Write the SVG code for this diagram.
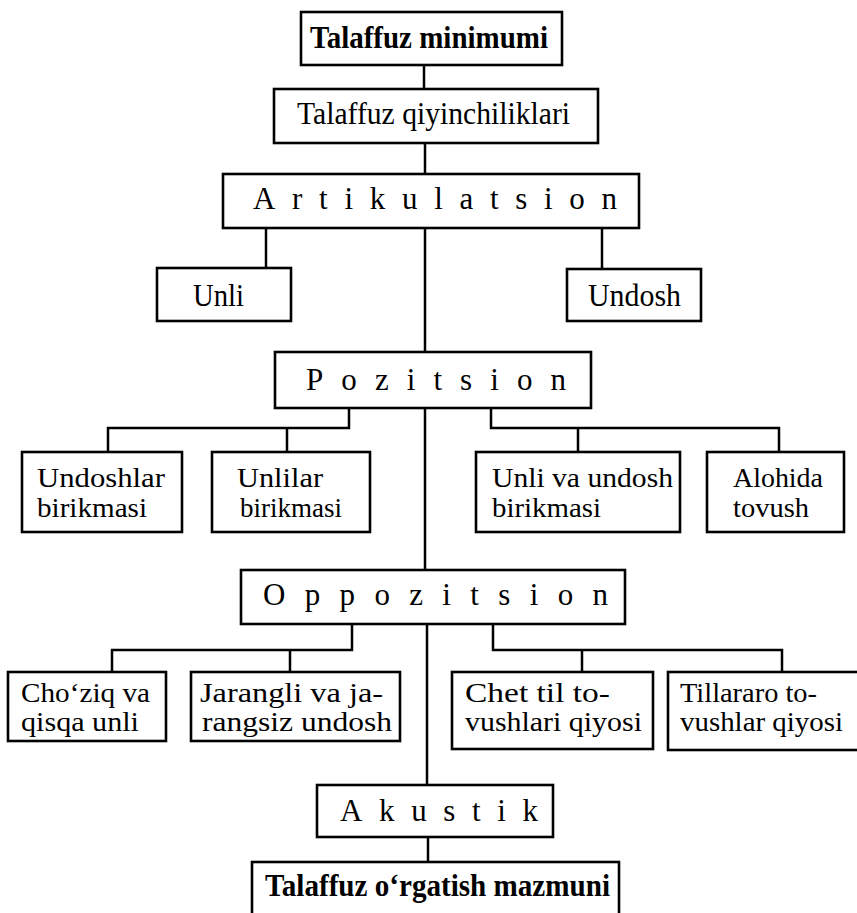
<svg xmlns="http://www.w3.org/2000/svg" width="857" height="913" viewBox="0 0 857 913">
<style>
.box{fill:#fff;stroke:#000;stroke-width:2.6}
.t{font-family:"Liberation Serif","Times New Roman",serif;font-size:31px;fill:#000}
.m{font-size:28px}
.b{font-weight:bold}
.c{fill:none;stroke:#000;stroke-width:2.5}
</style>
<rect width="857" height="913" fill="#fff"/>
<g id="connectors">
<path class="c" d="M424,65V89"/>
<path class="c" d="M425,143V174"/>
<path class="c" d="M266,228V268"/>
<path class="c" d="M602,228V269"/>
<path class="c" d="M425,228V352"/>
<path class="c" d="M349,408V428H108V452M287,428V452"/>
<path class="c" d="M491,408V428H779V452M578,428V452"/>
<path class="c" d="M425,408V570"/>
<path class="c" d="M352,624V650H112V672M290,650V672"/>
<path class="c" d="M493,624V650H782V672M582,650V672"/>
<path class="c" d="M427,624V785"/>
<path class="c" d="M428,837V862"/>
</g>
<g id="n1"><rect class="box" x="301" y="12" width="261" height="53"/><text class="t b" x="310" y="48" textLength="238" lengthAdjust="spacingAndGlyphs">Talaffuz  minimumi</text></g>
<g id="n2"><rect class="box" x="274" y="89" width="324" height="54"/><text class="t" x="297" y="124" textLength="273" lengthAdjust="spacingAndGlyphs">Talaffuz  qiyinchiliklari</text></g>
<g id="n3"><rect class="box" x="223" y="174" width="416" height="54"/><text class="t" x="253" y="209" textLength="364" lengthAdjust="spacing">Artikulatsion</text></g>
<g id="n4"><rect class="box" x="157" y="268" width="134" height="53"/><text class="t" x="193" y="306" textLength="51" lengthAdjust="spacingAndGlyphs">Unli</text></g>
<g id="n5"><rect class="box" x="567" y="269" width="134" height="52"/><text class="t" x="588" y="306" textLength="93" lengthAdjust="spacingAndGlyphs">Undosh</text></g>
<g id="n6"><rect class="box" x="275" y="352" width="316" height="56"/><text class="t" x="306" y="390" textLength="260" lengthAdjust="spacing">Pozitsion</text></g>
<g id="n7"><rect class="box" x="22" y="452" width="160" height="80"/><text class="t m" x="37" y="487" textLength="128" lengthAdjust="spacingAndGlyphs">Undoshlar</text><text class="t m" x="37" y="517" textLength="110" lengthAdjust="spacingAndGlyphs">birikmasi</text></g>
<g id="n8"><rect class="box" x="212" y="452" width="158" height="80"/><text class="t m" x="237" y="487" textLength="86" lengthAdjust="spacingAndGlyphs">Unlilar</text><text class="t m" x="240" y="517" textLength="102" lengthAdjust="spacingAndGlyphs">birikmasi</text></g>
<g id="n9"><rect class="box" x="476" y="452" width="204" height="80"/><text class="t m" x="492" y="487" textLength="181" lengthAdjust="spacingAndGlyphs">Unli va undosh</text><text class="t m" x="492" y="517" textLength="109" lengthAdjust="spacingAndGlyphs">birikmasi</text></g>
<g id="n10"><rect class="box" x="707" y="452" width="137" height="80"/><text class="t m" x="733" y="487" textLength="90" lengthAdjust="spacingAndGlyphs">Alohida</text><text class="t m" x="733" y="517" textLength="76" lengthAdjust="spacingAndGlyphs">tovush</text></g>
<g id="n11"><rect class="box" x="241" y="570" width="384" height="54"/><text class="t" x="263" y="605" textLength="345" lengthAdjust="spacing">Oppozitsion</text></g>
<g id="n12"><rect class="box" x="8" y="672" width="158" height="69"/><text class="t m" x="21" y="702" textLength="129" lengthAdjust="spacingAndGlyphs">Cho‘ziq va</text><text class="t m" x="21" y="731" textLength="118" lengthAdjust="spacingAndGlyphs">qisqa unli</text></g>
<g id="n13"><rect class="box" x="191" y="672" width="209" height="69"/><text class="t m" x="200" y="702" textLength="183" lengthAdjust="spacingAndGlyphs">Jarangli va ja-</text><text class="t m" x="202" y="731" textLength="190" lengthAdjust="spacingAndGlyphs">rangsiz undosh</text></g>
<g id="n14"><rect class="box" x="452" y="672" width="201" height="77"/><text class="t m" x="465" y="702" textLength="145" lengthAdjust="spacingAndGlyphs">Chet til to-</text><text class="t m" x="465" y="731" textLength="177" lengthAdjust="spacingAndGlyphs">vushlari qiyosi</text></g>
<g id="n15"><rect class="box" x="668" y="672" width="200" height="78"/><text class="t m" x="680" y="702" textLength="137" lengthAdjust="spacingAndGlyphs">Tillararo to-</text><text class="t m" x="680" y="731" textLength="163" lengthAdjust="spacingAndGlyphs">vushlar qiyosi</text></g>
<g id="n16"><rect class="box" x="317" y="785" width="236" height="52"/><text class="t" x="340" y="821" textLength="198" lengthAdjust="spacing">Akustik</text></g>
<g id="n17"><rect class="box" x="252" y="862" width="367" height="60"/><text class="t b" x="265" y="896" textLength="345" lengthAdjust="spacingAndGlyphs">Talaffuz  o‘rgatish  mazmuni</text></g>
</svg>
